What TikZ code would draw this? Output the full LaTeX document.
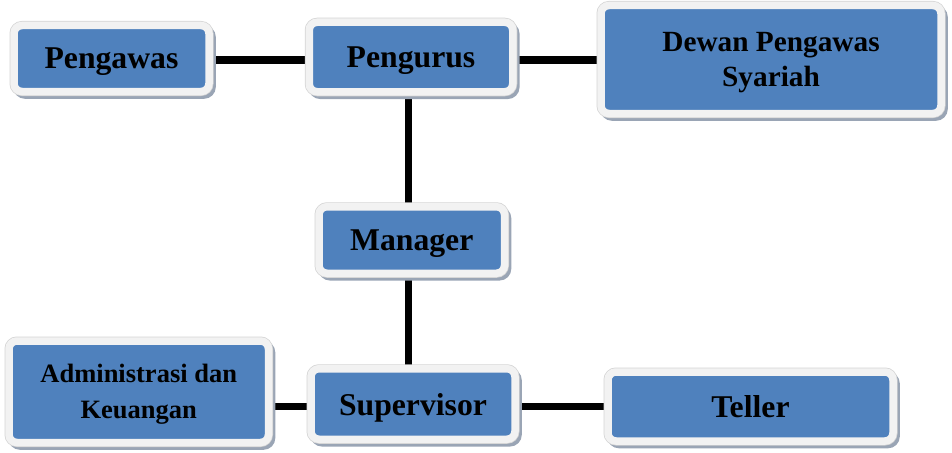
\documentclass[tikz,border=0pt]{standalone}
\usepackage{fontspec}
\setmainfont{Liberation Serif}
\usetikzlibrary{backgrounds}
\definecolor{boxblue}{HTML}{4F81BD}
\definecolor{framegray}{HTML}{F2F2F2}
\definecolor{edgegray}{HTML}{D4D4D4}
\definecolor{shadowgray}{HTML}{9AA5B5}
\tikzset{
  box/.style={
    preaction={draw=shadowgray, fill=shadowgray, line width=7.5pt,
      transform canvas={shift={(3pt,-3.5pt)}}},
    preaction={draw=edgegray, line width=9pt},
    draw=framegray, line width=7.5pt, fill=boxblue, rounded corners=8pt,
    inner sep=0pt, text depth=0pt, align=center, text=black,
    font=\bfseries\fontsize{31.7}{38}\selectfont},
  link/.style={draw=black, line width=7pt}
}
\begin{document}
\begin{tikzpicture}[x=1pt,y=-1pt]
\useasboundingbox (0,0) rectangle (952,452);
\node[box, minimum width=195pt, minimum height=66pt] (pengawas) at (111.5,58.5) {Pengawas};
\node[box, minimum width=203.5pt, minimum height=69.5pt] (pengurus) at (411,57) {Pengurus};
\node[box, minimum width=340pt, minimum height=108pt, font=\bfseries\fontsize{29.3}{35.5}\selectfont] (dewan) at (771,59.5) {Dewan Pengawas\\Syariah};
\node[box, minimum width=185.5pt, minimum height=66.5pt] (manager) at (411.75,240) {Manager};
\node[box, minimum width=259.5pt, minimum height=101.5pt, font=\bfseries\fontsize{26.5}{36}\selectfont] (admin) at (138.75,391.75) {Administrasi dan\\Keuangan};
\node[box, minimum width=204pt, minimum height=70.5pt] (supervisor) at (413,404) {Supervisor};
\node[box, minimum width=285pt, minimum height=69pt] (teller) at (750.5,406.5) {Teller};
\begin{scope}[on background layer]
\draw[link] ([yshift=-3pt]pengurus.west) -- ([yshift=-3pt]pengurus.west -| pengawas.east);
\draw[link] ([yshift=-3pt]pengurus.east) -- ([yshift=-3pt]pengurus.east -| dewan.west);
\draw[link] ([xshift=-3pt]pengurus.south) -- ([xshift=-3pt]pengurus.south |- manager.north);
\draw[link] ([xshift=-3.75pt]manager.south) -- ([xshift=-3.75pt]manager.south |- supervisor.north);
\draw[link] ([yshift=-2pt]supervisor.west) -- ([yshift=-2pt]supervisor.west -| admin.east);
\draw[link] ([yshift=-2pt]supervisor.east) -- ([yshift=-2pt]supervisor.east -| teller.west);
\end{scope}
\end{tikzpicture}
\end{document}
